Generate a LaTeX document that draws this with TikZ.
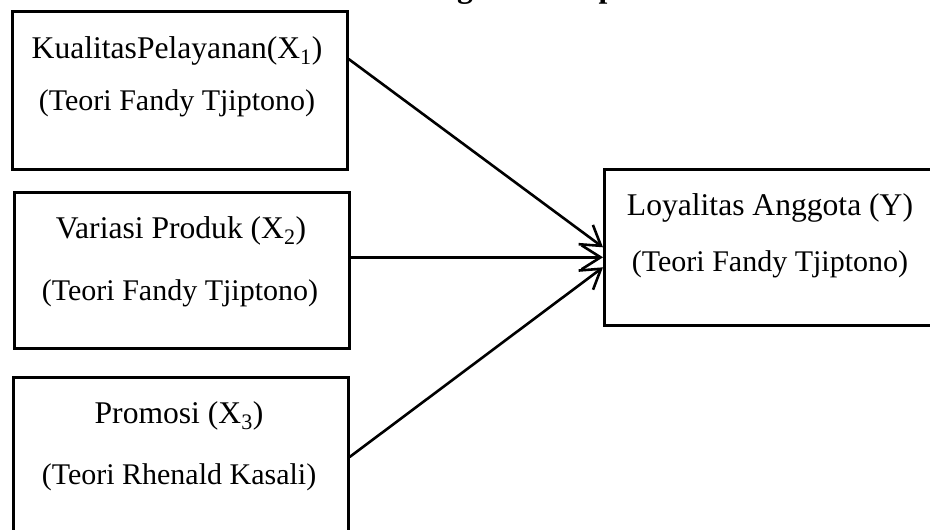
\documentclass[tikz,border=0pt]{standalone}
\usepackage{fontspec}
\setmainfont{Liberation Serif}
\usetikzlibrary{arrows.meta}
\begin{document}
\begin{tikzpicture}[x=1pt,y=-1pt,
  box/.style={draw=black,line width=2.6pt,rectangle,inner sep=0pt,anchor=north west},
  lbl/.style={font=\fontsize{31.6}{38}\selectfont,inner sep=0pt,anchor=base},
  sub/.style={font=\fontsize{30}{36}\selectfont,inner sep=0pt,anchor=base},
  conn/.style={line width=2.6pt,-{Straight Barb[length=19pt,width=24pt,line width=2.6pt]}}]
\useasboundingbox (0,0) rectangle (930,530);
\clip (0,0) rectangle (930,530);
% partially visible title
\node[inner sep=0pt,anchor=base west,font=\fontsize{31.6}{38}\selectfont\bfseries] (title) at (371,-2) {Kerangka Konseptual};
% boxes
\node[box,minimum width=335pt,minimum height=158pt] (b1) at (11,10) {};
\node[box,minimum width=335pt,minimum height=156pt] (b2) at (13,191) {};
\node[box,minimum width=335pt,minimum height=170pt] (b3) at (12,376) {};
\node[box,minimum width=345pt,minimum height=156pt] (bY) at (603,168) {};
% texts
\node[lbl] (t1a) at (177,58) {KualitasPelayanan(X\textsubscript{1})};
\node[sub] (t1b) at (177,110) {(Teori Fandy Tjiptono)};
\node[lbl] (t2a) at (181,238) {Variasi Produk (X\textsubscript{2})};
\node[sub] (t2b) at (180,300) {(Teori Fandy Tjiptono)};
\node[lbl] (t3a) at (179,423) {Promosi (X\textsubscript{3})};
\node[sub] (t3b) at (179,484) {(Teori Rhenald Kasali)};
\node[lbl] (tya) at (770,215) {Loyalitas Anggota (Y)};
\node[sub] (tyb) at (770,271) {(Teori Fandy Tjiptono)};
% connectors
\draw[conn] ([yshift=-49pt]b1.north east) -- ([yshift=0pt]bY.west);
\draw[conn] ([yshift=13pt]b2.east) -- ([yshift=-10pt]bY.west);
\draw[conn] ([yshift=-81pt]b3.north east) -- ([yshift=-20pt]bY.west);
\end{tikzpicture}
\end{document}
